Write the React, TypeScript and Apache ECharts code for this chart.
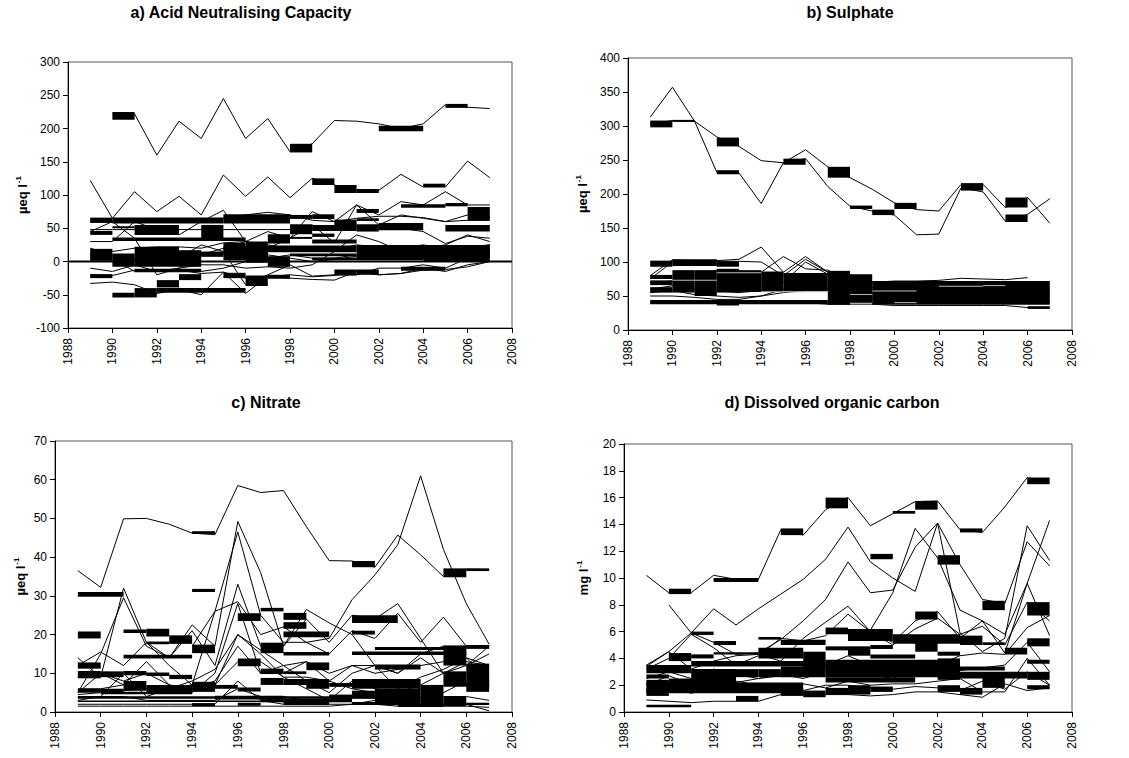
import React, { useEffect, useRef } from "react";
import * as echarts from "echarts";

const years = [1989, 1990, 1991, 1992, 1993, 1994, 1995, 1996, 1997, 1998, 1999, 2000, 2001, 2002, 2003, 2004, 2005, 2006, 2007];
const xTickYears = [1988, 1990, 1992, 1994, 1996, 1998, 2000, 2002, 2004, 2006, 2008];

const titles = ["a) Acid Neutralising Capacity", "b) Sulphate", "c) Nitrate", "d) Dissolved organic carbon"];
const unitMain = ["µeq l", "µeq l", "µeq l", "mg l"];

// ---- a) ANC (µeq/l), one row per site, 1989..2007
const ancLines: (number | null)[][] = [
  [null, 222, 222, 160, 211, 185, 245, 185, 215, 165, 177, 212, 211, 207, 200, 207, 236, 232, 230],
  [122, 65, 105, 75, 98, 70, 130, 98, 127, 96, 125, 115, 107, 107, 131, 112, 112, 151, 126],
  [45, 60, 35, -20, -10, 10, 20, 30, 45, 35, 75, 60, 85, 70, 90, 85, 105, 85, 85],
  [30, 30, 60, 48, 40, 60, 77, 30, 20, 35, 55, 28, 85, 55, 70, 65, 60, 70, 68],
  [-10, -15, -5, -15, -10, -5, -5, -10, -8, -10, -5, 15, 40, 30, 15, 20, 25, 40, 30],
  [-33, -31, -35, -48, -42, -50, -16, -48, -22, -25, -27, -28, -15, -20, -18, -10, -15, -5, 0],
  [20, 10, 5, 0, 5, 25, 15, -35, -20, -5, -22, -20, -20, -10, -10, -5, -10, 5, 20],
  [5, 5, -15, -15, -15, -15, -10, 0, 5, 10, 5, 5, 10, 5, 10, 10, 5, 20, 25],
  [60, 60, 62, 62, 62, 63, 65, 70, 74, 70, 62, 60, 65, 68, 68, 66, 60, 62, 65],
  [48, 48, 48, 48, 48, 48, 48, 48, 48, 48, 50, 48, 50, 52, 50, 45, 27, 38, 35],
  [10, 15, 20, 22, 22, 20, 28, 30, 25, 20, 15, 18, 25, 22, 20, 25, 20, 22, 25],
  [-20, -21, -13, -13, -13, -18, -16, -25, -23, -20, -23, -21, -15, -20, -18, -13, -12, -8, 0],
  [12, 8, 2, 5, 8, 12, 14, 12, 10, 5, 0, 3, 8, 12, 15, 10, 8, 15, 12],
];
// [fromYear, toYear, low, high]
const ancBlocks: number[][] = [
  [1990, 1991, 213, 225], [1998, 1999, 164, 177], [2002, 2004, 196, 204], [2005, 2006, 231, 237],
  [1999, 2000, 115, 125], [2000, 2001, 103, 115], [2001, 2002, 103, 109], [2004, 2005, 112, 117],
  [1989, 1990, 58, 66], [1990, 1993, 57, 66], [1993, 1995, 57, 66], [1995, 1998, 57, 71], [1998, 1999, 64, 70], [1999, 2000, 64, 71],
  [1990, 1991, 50, 53], [1989, 1990, 40, 46], [1991, 1993, 40, 55], [1994, 1995, 32, 55], [1990, 1996, 31, 36],
  [1989, 1990, 1, 19], [1990, 1991, -8, 12], [1991, 1993, -8, 22], [1993, 1994, -8, 17], [1994, 1995, 7, 15],
  [1995, 1996, 15, 28], [1995, 1997, 2, 22], [1996, 1997, 15, 30], [1996, 1997, -2, 12],
  [1997, 1998, 27, 41], [1997, 1998, -8, 8], [1997, 2001, 14, 24], [2001, 2007, 5, 25], [1999, 2001, 27, 33],
  [1999, 2001, 46, 55], [1999, 2000, 37, 42], [1998, 1999, 41, 56], [1998, 1999, 34, 37], [2000, 2001, 52, 63],
  [2001, 2002, 73, 79], [2001, 2002, 61, 65], [2001, 2002, 45, 56], [2002, 2004, 47, 58], [2003, 2005, 81, 86],
  [2005, 2006, 83, 88], [2006, 2007, 61, 82], [2005, 2007, 45, 55], [2004, 2007, 0, 20],
  [1989, 1990, -25, -19], [1990, 1991, -54, -47], [1991, 1992, -54, -40], [1992, 1993, -39, -28], [1993, 1994, -28, -19],
  [1992, 1996, -47, -40], [1995, 1996, -25, -17], [1996, 1997, -37, -21], [1997, 1998, -26, -20], [2000, 2001, -21, -12],
  [2001, 2002, -20, -12], [2003, 2005, -14, -8], [1991, 1994, -16, -11],
  [1994, 1997, 10, 14], [1998, 2001, 8, 12], [1999, 2004, 2, 6],
];

// ---- b) Sulphate (µeq/l)
const so4Lines: (number | null)[][] = [
  [313, 357, 307, 232, 231, 186, 246, 252, 211, 182, 175, 169, 140, 141, 209, 203, 160, 170, 193],
  [303, 308, 307, 284, 270, 249, 246, 265, 240, 224, 207, 187, 177, 175, 214, 214, 180, 195, 157],
  [80, 103, 102, 102, 104, 122, 85, 108, 85, 75, 70, 72, 72, 73, 76, 75, 74, 77, null],
  [75, 100, 100, 101, 101, 100, 80, 104, 85, 82, 62, 60, 62, 64, 66, 64, 64, 62, 60],
  [70, 72, 80, 88, 85, 85, 108, 90, 88, 70, 58, 58, 55, 60, 60, 58, 58, 56, 54],
  [60, 65, 60, 58, 55, 58, 70, 100, 82, 65, 55, 50, 52, 50, 52, 50, 48, 48, 50],
  [55, 58, 52, 50, 48, 50, 60, 62, 70, 50, 48, 42, 42, 44, 44, 44, 42, 42, 40],
  [40, 40, 40, 40, 40, 40, 40, 40, 38, 38, 38, 36, 36, 36, 36, 36, 36, 33, 33],
  [50, 50, 48, 45, 45, 50, 55, 58, 60, 50, 45, 40, 40, 40, 42, 40, 40, 45, 42],
];
const so4Blocks: number[][] = [
  [1989, 1990, 298, 308], [1990, 1991, 306, 309], [1992, 1993, 270, 283], [1992, 1993, 229, 235],
  [1995, 1996, 243, 252], [1997, 1998, 224, 240], [1998, 1999, 178, 183], [1999, 2000, 169, 177],
  [2000, 2001, 178, 187], [2003, 2004, 205, 216], [2005, 2006, 180, 195], [2005, 2006, 159, 170],
  [1989, 1990, 93, 102], [1990, 1992, 94, 104], [1992, 1993, 93, 101],
  [1989, 1990, 75, 81], [1989, 1990, 66, 73], [1989, 1990, 55, 63], [1990, 1991, 55, 88], [1991, 1992, 50, 88],
  [1992, 1993, 55, 90], [1993, 1994, 56, 88], [1994, 1995, 56, 86], [1995, 1997, 57, 84], [1997, 1998, 37, 87],
  [1998, 1999, 40, 82], [1999, 2007, 37, 72], [1989, 1997, 38, 44], [1992, 1993, 36, 44], [2006, 2007, 31, 35],
];
// thin white gaps inside the dense sulphate cluster
const so4Gaps: number[][] = [
  [1990, 1992, 73, 74], [1992, 1994, 84, 85], [1994, 1997, 56, 57], [1999, 2001, 57, 58],
  [2002, 2004, 64, 65], [2004, 2005, 65, 66], [2000, 2001, 40, 41], [1998, 1999, 52, 53],
];

// ---- c) Nitrate (µeq/l)
const no3Lines: (number | null)[][] = [
  [36.5, 32.2, 49.9, 50, 48.5, 46.2, 45.8, 58.5, 56.7, 57.2, 47.9, 39.1, 39, 37.4, 45.7, 40.6, 35, 36.9, 36.8],
  [null, null, null, null, null, 17, 26, 46.5, 25, 18, 18, 19, 29, 35.4, 43.2, 61, 42, 28, 17.5],
  [14, 9, 32, 18, 14, 22.5, 17, 49.2, 36, 17, 26.5, 23, 20, 12, 10, 15, 17, 12, 15],
  [5, 15, 29.5, 17, 14, 21, 12, 33, 17, 17, 24, 18, 25, 24, 28, 19, 10, 12, 17],
  [12, 15.5, 12, 18, 12, 7, 26, 28.5, 20, 22, 18, 15, 21, 19, 25.5, 18, 24.5, 17, 17],
  [5, 10, 7, 13, 7, 5, 10, 28, 10, 12, 8, 5, 10, 12, 6, 9, 11, 14, 8],
  [3, 4, 10, 4, 6, 8, 11, 20, 15, 9, 6, 3, 8, 6, 8, 6, 5, 8, 10],
  [9, 10, 8, 10, 7, 6, 8, 17, 10, 10, 13, 8, 12, 12, 10, 14, 10, 13, 12],
  [2, 2, 2, 2, 2, 2, 2, 8, 3, 2, 3, 2, 2, 3, 2, 2, 2, 2, 0.3],
  [4, 4, 4, 3, 3, 3, 3, 6, 4, 4, 3, 3, 4, 4, 4, 3, 4, 4, 3],
  [6, 6, 7, 6, 6, 7, 7, 13, 13, 9, 9, 8, 6, 5, 5, 7, 10, 10, 7],
  [4.5, 5, 5.5, 6, 6, 7, 7, 20, 16, 12, 13, 10, 12, 10, 11, 12, 13, 14, 12],
  [1.5, 1.5, 1.5, 1.5, 1.5, 1.5, 1.5, 1.5, 1.5, 1.5, 1.5, 1.5, 2, 2, 1.5, 1.5, 1.5, 1.5, 1.2],
];
const no3Blocks: number[][] = [
  [1989, 1991, 29.8, 31], [1989, 1990, 19, 20.8], [1989, 1990, 11.2, 12.8], [1989, 1990, 8.7, 10.6], [1989, 1991, 5, 6],
  [1990, 1991, 9, 10.5], [1991, 1992, 20.4, 21.3], [1991, 1994, 13.8, 14.8], [1991, 1992, 9.5, 10.6], [1991, 1992, 5.5, 8],
  [1992, 1993, 19.5, 21.5], [1992, 1993, 17.5, 18.2], [1992, 1993, 9.3, 10.2], [1992, 1994, 5, 7], [1993, 1994, 17.6, 19.8],
  [1993, 1994, 8.5, 9.6], [1994, 1995, 15.2, 17.4], [1994, 1995, 31, 31.8], [1994, 1995, 46, 46.7], [1994, 1995, 5.2, 7.8],
  [1994, 1995, 1.5, 2.3], [1995, 1996, 6, 7], [1996, 1997, 23.5, 25.5], [1996, 1997, 11.8, 13.8], [1996, 1997, 5.3, 6.3],
  [1997, 1998, 26, 26.9], [1997, 1998, 15.2, 17.9], [1997, 1998, 9.8, 11.2], [1997, 1998, 7, 8.8], [1997, 1998, 2.5, 3.8],
  [1998, 1999, 23.8, 25.6], [1998, 1999, 21.5, 23.2], [1998, 2000, 19.3, 20.8], [1998, 2000, 14.6, 15.5], [1998, 1999, 9.8, 10.5],
  [1998, 2000, 7, 8.5], [1998, 2000, 1.8, 3.5], [1999, 2000, 10.8, 12.8], [1999, 2000, 6, 7], [2000, 2001, 2.5, 4.5],
  [2000, 2001, 6.5, 7.5], [2001, 2002, 37.4, 39], [2001, 2003, 23, 25], [2001, 2002, 20, 21], [2001, 2006, 14.7, 15.6],
  [2001, 2004, 6, 8.5], [2001, 2002, 3.5, 5.5], [2002, 2004, 11, 12.3], [2002, 2006, 16, 16.8], [2002, 2004, 2, 6],
  [2004, 2005, 1.5, 7], [2005, 2006, 34.8, 37.1], [2005, 2006, 12, 17.2], [2005, 2006, 7.5, 10.5], [2005, 2006, 1.5, 4],
  [2006, 2007, 36.4, 37.1], [2006, 2007, 16.3, 17.3], [2006, 2007, 5.2, 12.5], [2006, 2007, 1.8, 2.4],
  [1989, 2004, 3.4, 4.1], [1989, 2001, 2.6, 3.0], [1990, 1994, 4.6, 5.2], [1995, 1998, 3.2, 4.2],
  [1996, 1997, 1.6, 2.4], [2003, 2005, 1.3, 2.2], [2005, 2007, 6.5, 7.5], [2001, 2003, 1.8, 2.6],
];

// ---- d) DOC (mg/l)
const docLines: (number | null)[][] = [
  [10.2, 8.9, 8.9, 10.2, 9.9, 9.9, 13.6, 13.2, 15.1, 16, 13.9, 14.8, 15.7, 15.75, 13.6, 13.4, 15.3, 17.5, 17.1],
  [3.4, 4.5, 5.9, 7.7, 6.5, 7.7, 8.8, 9.9, 11.4, 13.8, 11.2, 10, 9, 14.1, 5.9, 4.5, 5.5, 13.9, 11.3],
  [null, 8, 5.9, 5.2, 4.3, 4.4, 5.4, 6.8, 8.4, 11.2, 8.9, 9.1, 12.3, 14.1, 11, 8.4, 8.1, 12.7, 10.9],
  [null, null, null, null, null, null, null, null, null, null, 6.1, 8.9, 13.7, 11.5, 7.6, 6.8, 4.4, 9.6, 14.3],
  [3.5, 4.5, 3.2, 3.8, 4.2, 4.3, 3.8, 5.5, 6.7, 7.9, 6, 5.2, 6.8, 7.5, 5.5, 6.8, 5.8, 9.6, 5.7],
  [3.2, 4, 5.8, 4.8, 3.5, 4.2, 5.5, 5.3, 5.7, 7.3, 6, 5, 6.2, 7, 5.8, 6.4, 5, 8.2, 6.8],
  [2.5, 3, 2.5, 3.2, 2.8, 2.5, 2.7, 3.2, 3.5, 4.2, 3.5, 3.2, 3.8, 3.5, 4.2, 4.4, 4.3, 6.3, 7.2],
  [2, 2.7, 2.1, 2.5, 2.2, 2.5, 2.8, 2.5, 3, 3.3, 2.8, 2.5, 3.3, 3.5, 3.1, 3.3, 3.5, 5.2, 3],
  [1.5, 1.8, 1.4, 1.8, 1.5, 1.8, 1.7, 1.6, 2, 2, 1.8, 1.7, 1.9, 1.8, 1.6, 2.3, 1.7, 3, 2],
  [0.9, 0.8, 0.7, 0.8, 0.8, 0.8, 1.3, 1.3, 1.3, 1.3, 1.2, 1.3, 1.5, 1.5, 1.3, 1.1, 2.1, 1.6, 1.8],
  [1.5, 2.2, 1.9, 2.6, 2.3, 2, 2, 2.1, 1.8, 2.3, 2, 2.1, 2.1, 2.3, 2.5, 1.5, 1.5, 4, 2],
];
const docBlocks: number[][] = [
  [1990, 1991, 8.8, 9.2], [1992, 1994, 9.7, 10], [1995, 1996, 13.2, 13.7], [1997, 1998, 15.2, 16],
  [2000, 2001, 14.8, 15], [2001, 2002, 15.1, 15.75], [2003, 2004, 13.4, 13.7], [2006, 2007, 17, 17.5],
  [1999, 2000, 11.4, 11.8], [2002, 2003, 11, 11.7], [2004, 2005, 7.6, 8.3],
  [1989, 1991, 2.9, 3.5], [1989, 1990, 2, 2.4], [1989, 1990, 1.2, 1.8], [1989, 1991, 0.35, 0.55],
  [1990, 1991, 3.8, 4.4], [1991, 1992, 5.75, 6], [1991, 1992, 4, 4.3], [1991, 1993, 1.5, 3.2],
  [1992, 1993, 5, 5.3], [1992, 1994, 4.3, 4.45], [1991, 1997, 3.4, 3.8], [1993, 1994, 2.6, 3.2],
  [1993, 1994, 0.8, 1.2], [1994, 1995, 5.4, 5.6], [1994, 1996, 4, 4.8], [1994, 1995, 2.6, 3.2],
  [1994, 1995, 1.5, 2], [1995, 1997, 5, 5.4], [1995, 1996, 1.2, 1.8], [1996, 1997, 3.2, 4.5],
  [1996, 1997, 1.1, 1.6], [1997, 1998, 5.8, 6.3], [1997, 1998, 4.6, 4.9], [1997, 1998, 1.3, 1.8],
  [1998, 2000, 5.3, 6.2], [1998, 1999, 4.2, 4.9], [1999, 2000, 4.7, 5], [1999, 2001, 4, 4.3],
  [1998, 1999, 1.3, 2], [1999, 2000, 1.5, 1.9], [2000, 2003, 5.1, 5.8], [2001, 2002, 6.9, 7.5],
  [2001, 2002, 4.5, 5.2], [2002, 2003, 4.2, 4.5], [2002, 2003, 3.7, 4], [2002, 2003, 2.4, 3],
  [2002, 2003, 1.5, 2], [2003, 2004, 5, 5.7], [2003, 2004, 1.3, 1.8], [2004, 2005, 5, 5.2],
  [2004, 2005, 1.8, 2.6], [2005, 2006, 4.3, 4.8], [2006, 2007, 7.2, 8.2], [2006, 2007, 4.9, 5.5],
  [2006, 2007, 3.6, 3.9], [2006, 2007, 2.4, 3], [2006, 2007, 1.7, 2],
  [1989, 1996, 1.4, 2.2], [1992, 1993, 2.0, 2.6], [1995, 1997, 2.6, 3.4], [1997, 2003, 2.6, 3.9], [2003, 2006, 2.5, 3],
  [2003, 2005, 3.1, 3.4], [1989, 1990, 2.5, 2.8], [1990, 1992, 1.9, 2.5], [1997, 2001, 2.2, 2.6],
];

const yMins = [-100, 0, 0, 0];
const yMaxs = [300, 400, 70, 20];
const yIntervals = [50, 50, 10, 2];

const panelLines = [ancLines, so4Lines, no3Lines, docLines];
const panelBlocks = [ancBlocks, so4Blocks, no3Blocks, docBlocks];

const FONT = "Liberation Sans, Arial, Helvetica, sans-serif";

export default function App() {
  const ref = useRef<HTMLDivElement>(null);
  useEffect(() => {
    if (!ref.current) return;
    const chart = echarts.init(ref.current, undefined, { renderer: "svg" });

    const grids = [
      { left: 68, top: 62, width: 444, height: 266 },
      { left: 628, top: 58, width: 444, height: 272 },
      { left: 55, top: 441, width: 457, height: 271 },
      { left: 624, top: 444, width: 448, height: 268 },
    ];
    const nameGaps = [38, 38, 27, 33];
    const titlePos = [
      [241, 4], [850, 4], [266, 394], [832, 394],
    ];

    const rectItem = (fill: string) => (params: any, api: any) => {
      const a = api.coord([api.value(0), api.value(3)]);
      const b = api.coord([api.value(1), api.value(2)]);
      return {
        type: "rect",
        shape: { x: a[0], y: a[1], width: b[0] - a[0], height: Math.max(1.5, b[1] - a[1]) },
        style: { fill },
      };
    };

    const series: any[] = [];
    panelLines.forEach((lines, p) => {
      lines.forEach((vals) => {
        const data = vals
          .map((v, i) => (v === null ? null : [years[i], v]))
          .filter((d) => d !== null);
        series.push({
          type: "line",
          xAxisIndex: p,
          yAxisIndex: p,
          data,
          symbol: "none",
          silent: true,
          lineStyle: { color: "#000", width: 1 },
          z: 2,
        });
      });
      series.push({
        type: "custom",
        xAxisIndex: p,
        yAxisIndex: p,
        data: panelBlocks[p],
        encode: { x: [0, 1], y: [2, 3] },
        silent: true,
        z: 3,
        renderItem: rectItem("#000"),
      });
    });
    series.push({
      type: "custom",
      xAxisIndex: 1,
      yAxisIndex: 1,
      data: so4Gaps,
      encode: { x: [0, 1], y: [2, 3] },
      silent: true,
      z: 4,
      renderItem: (params: any, api: any) => {
        const a = api.coord([api.value(0), api.value(3)]);
        const b = api.coord([api.value(1), api.value(2)]);
        return {
          type: "rect",
          shape: { x: a[0], y: a[1], width: b[0] - a[0], height: 1 },
          style: { fill: "#bbb" },
        };
      },
    });
    // zero line in panel a
    series.push({
      type: "line",
      xAxisIndex: 0,
      yAxisIndex: 0,
      data: [[xTickYears[0], 0], [xTickYears[xTickYears.length - 1], 0]],
      symbol: "none",
      silent: true,
      lineStyle: { color: "#000", width: 2 },
      z: 5,
    });

    chart.setOption({
      animation: false,
      backgroundColor: "#fff",
      title: titles.map((t, i) => ({
        text: t,
        left: titlePos[i][0],
        top: titlePos[i][1],
        padding: 0,
        textAlign: "center",
        textStyle: { fontFamily: FONT, fontSize: 16, fontWeight: "bold", color: "#000" },
      })),
      grid: grids.map((g) => ({
        ...g,
        show: true,
        borderColor: "#555",
        borderWidth: 1,
        backgroundColor: "transparent",
        containLabel: false,
      })),
      xAxis: grids.map((_, i) => ({
        type: "value",
        gridIndex: i,
        min: xTickYears[0],
        max: xTickYears[xTickYears.length - 1],
        interval: 2,
        axisLine: { show: true, onZero: false, lineStyle: { color: "#000", width: 1 } },
        axisTick: { show: true, inside: false, length: 5, lineStyle: { color: "#000" } },
        splitLine: { show: false },
        axisLabel: {
          rotate: 90,
          margin: 10,
          color: "#000",
          fontFamily: FONT,
          fontSize: 12,
          formatter: (v: number) => String(v),
        },
      })),
      yAxis: grids.map((_, i) => ({
        type: "value",
        gridIndex: i,
        min: yMins[i],
        max: yMaxs[i],
        interval: yIntervals[i],
        name: "{b|" + unitMain[i] + "}{s|-1}",
        nameLocation: "middle",
        nameRotate: 90,
        nameGap: nameGaps[i],
        nameTextStyle: {
          rich: {
            b: { fontFamily: FONT, fontSize: 13, fontWeight: "bold", color: "#000", lineHeight: 16 },
            s: { fontFamily: FONT, fontSize: 8, fontWeight: "bold", color: "#000", verticalAlign: "top", lineHeight: 16, padding: [0, 0, 6, 1] },
          },
        },
        axisLine: { show: true, lineStyle: { color: "#000", width: 1 } },
        axisTick: { show: true, inside: false, length: 5, lineStyle: { color: "#000" } },
        splitLine: { show: false },
        axisLabel: { margin: 8, color: "#000", fontFamily: FONT, fontSize: 12 },
      })),
      series,
    });
    return () => chart.dispose();
  }, []);
  return (
    <div
      ref={ref}
      style={{ position: "fixed", left: 0, top: 0, width: 1129, height: 758, background: "#fff" }}
    />
  );
}
